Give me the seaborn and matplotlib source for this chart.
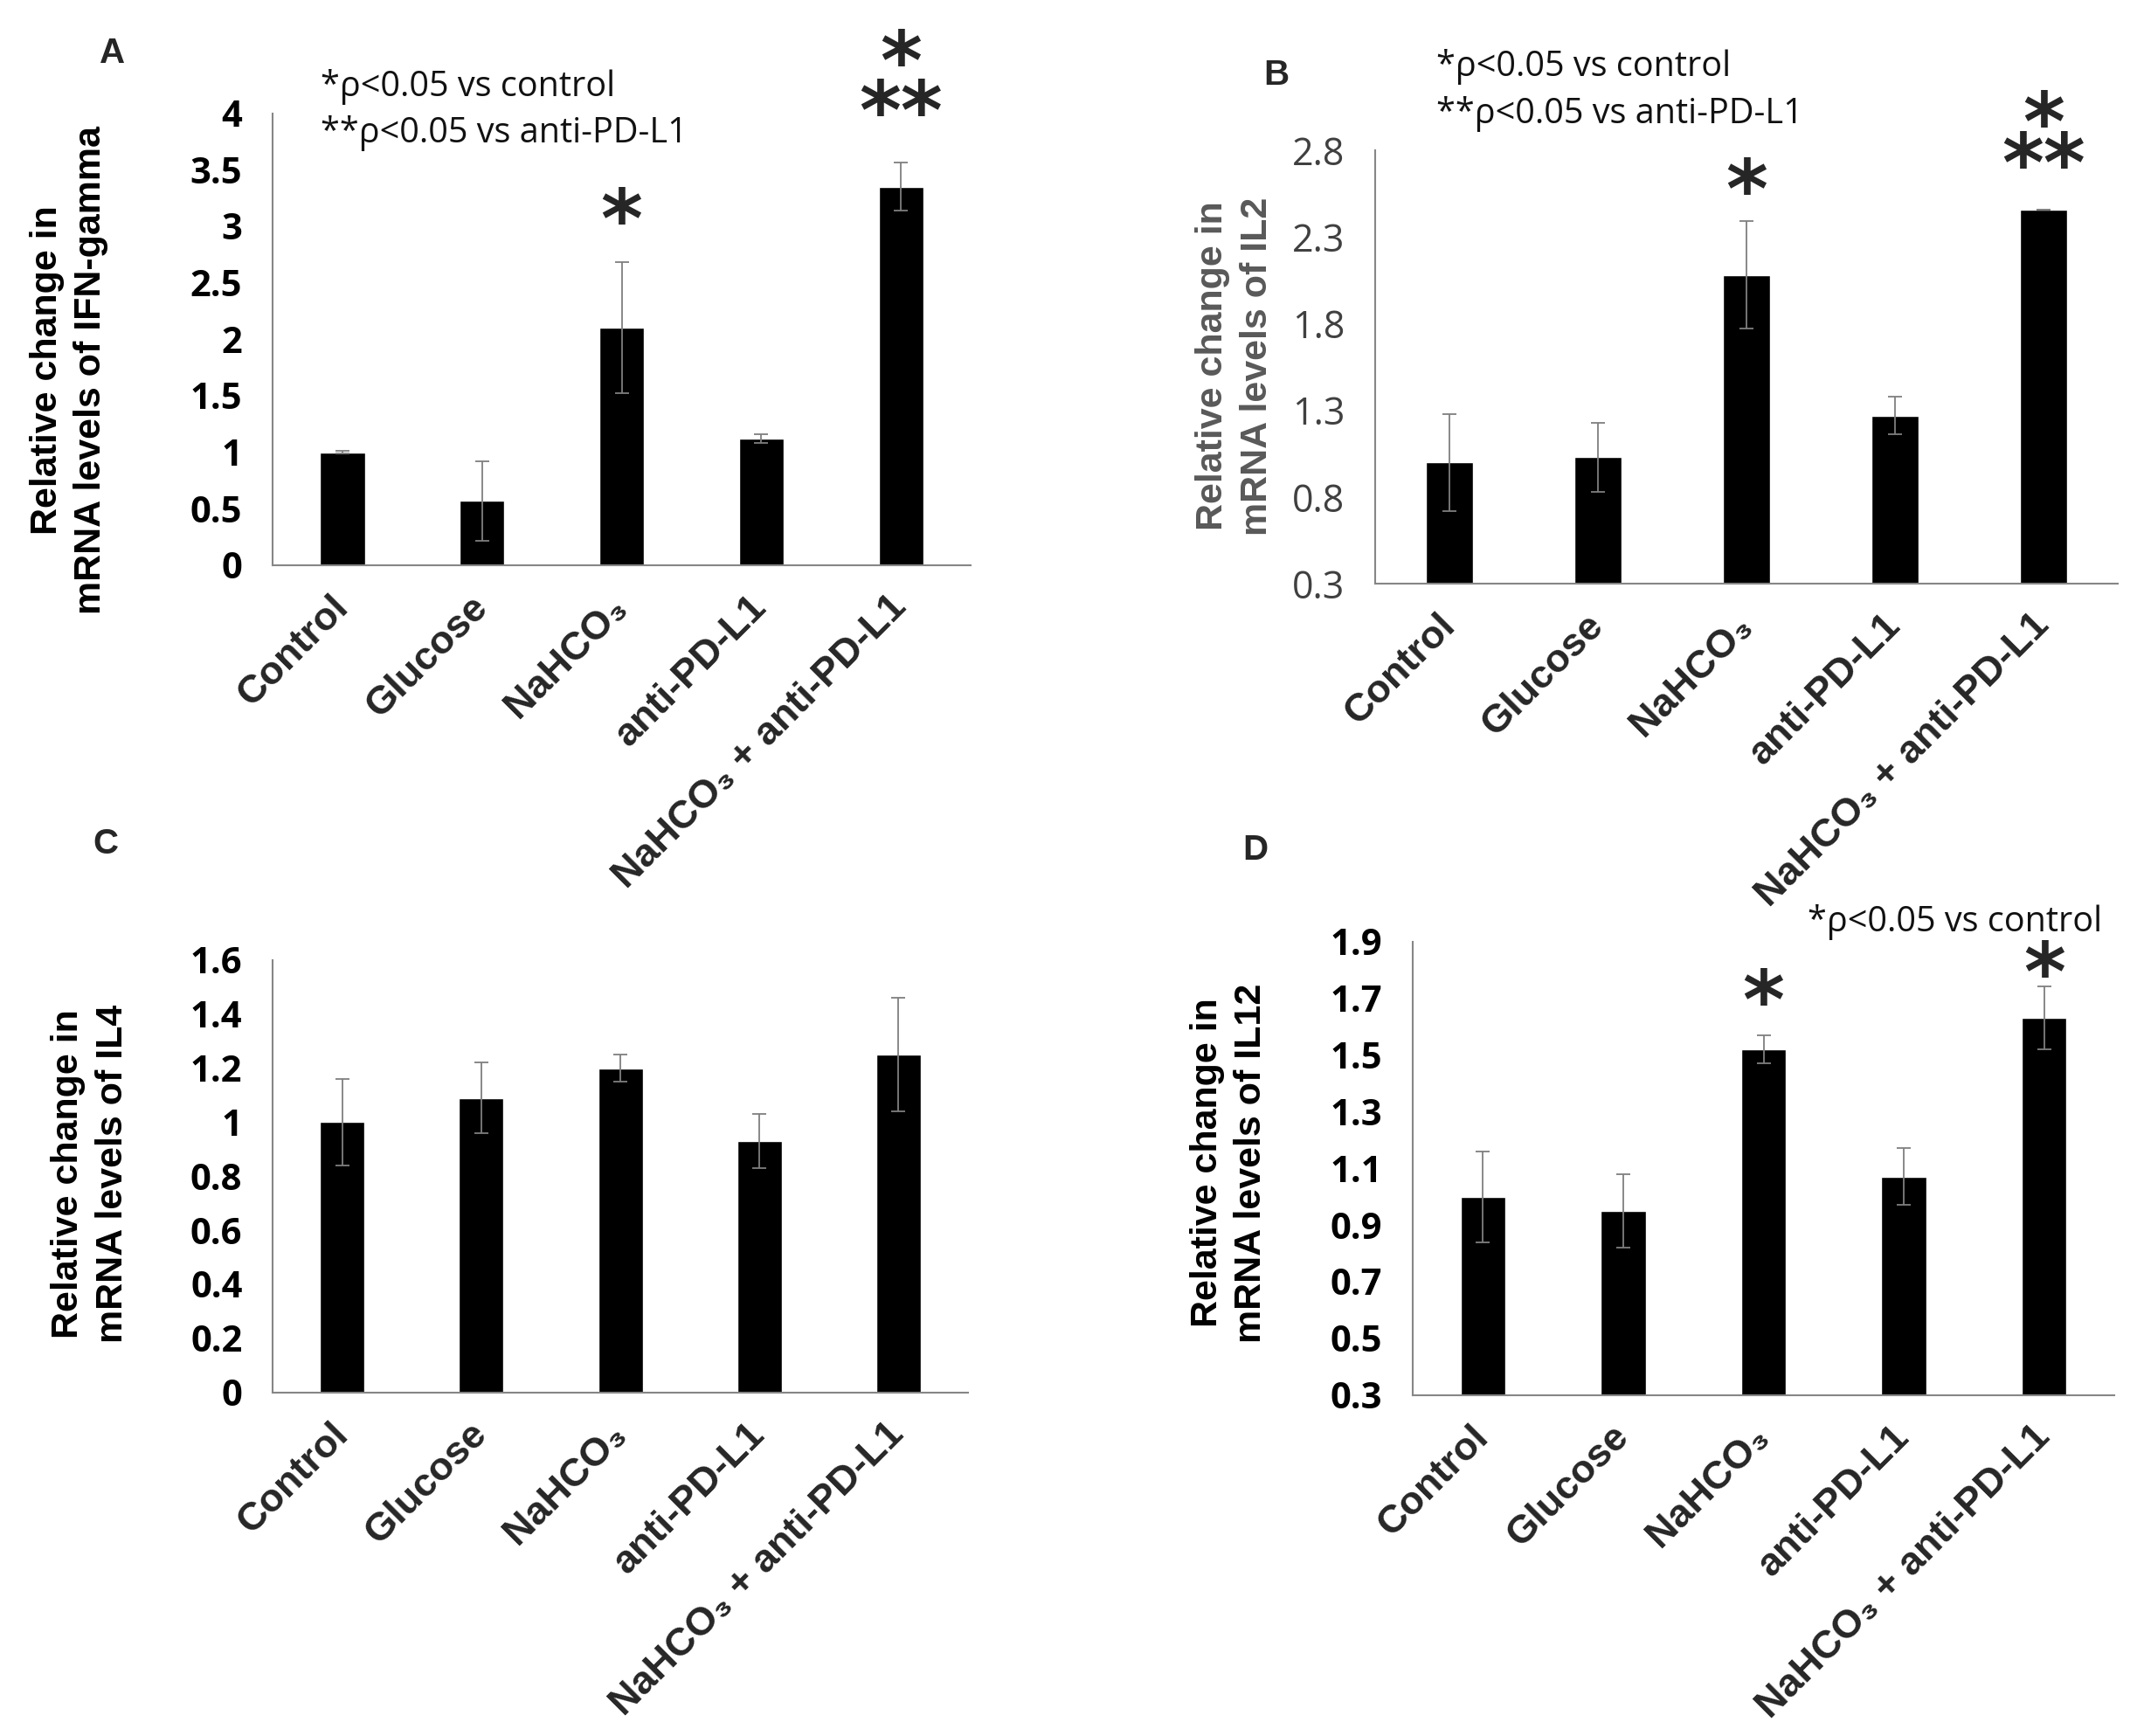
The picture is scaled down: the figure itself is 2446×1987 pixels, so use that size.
import numpy as np
import matplotlib
matplotlib.use('Agg')
import matplotlib.pyplot as plt
import seaborn as sns

# groups on the x axis
groups = ['Control', 'Glucose', 'NaHCO\u2083', 'anti-PD-L1', 'NaHCO\u2083 + anti-PD-L1']

# values (mean, error)
ifn_mean = [1.00, 0.57, 2.10, 1.12, 3.35]
ifn_err = [0.01, 0.35, 0.58, 0.04, 0.21]

il2_mean = [1.00, 1.03, 2.08, 1.27, 2.46]
il2_err = [0.28, 0.20, 0.31, 0.11, 0.0]

il4_mean = [1.00, 1.09, 1.20, 0.93, 1.25]
il4_err = [0.16, 0.13, 0.05, 0.10, 0.21]

il12_mean = [1.00, 0.95, 1.52, 1.07, 1.63]
il12_err = [0.16, 0.13, 0.05, 0.10, 0.11]

# y axis ranges / tick steps
ifn_ticks = np.arange(0, 4.01, 0.5)
il2_ticks = np.arange(0.3, 2.81, 0.5)
il4_ticks = np.arange(0, 1.61, 0.2)
il12_ticks = np.arange(0.3, 1.91, 0.2)

# significance marks: (group index, y, text)
ifn_marks = [(2, 3.13, '*'), (4, 4.53, '*'), (4, 4.09, '**')]
il2_marks = [(2, 2.62, '*'), (4, 3.01, '*'), (4, 2.77, '**')]
il12_marks = [(2, 1.72, '*'), (4, 1.82, '*')]

sns.set_style('white')
plt.rcParams['font.family'] = ['Liberation Sans', 'DejaVu Sans']

AX_COL = '#868686'
ERR_COL = '#7f7f7f'
TICK_FONT = ['Open Sans', 'DejaVu Sans']
LBL_FONT = ['Liberation Sans', 'DejaVu Sans']

fig = plt.figure(figsize=(24.46, 19.87), dpi=100)


def panel(rect, means, errs, ticks, ylabel, label_xy, marks, bold_ticks=True):
    ax = fig.add_axes(rect)
    sns.barplot(x=groups, y=means, color='black', width=0.32, saturation=1,
                ax=ax, errorbar=None)
    ax.errorbar(np.arange(len(groups)), means, yerr=errs, fmt='none',
                ecolor=ERR_COL, elinewidth=1.3, capsize=6, capthick=1.3)
    ax.set_xlim(-0.5, len(groups) - 0.5)
    ax.set_ylim(ticks[0], ticks[-1])
    ax.set_yticks(ticks)
    if bold_ticks:
        ax.set_yticklabels([f'{t:g}' for t in ticks], family=TICK_FONT,
                           fontsize=30, fontweight='bold', color='black')
    else:
        ax.set_yticklabels([f'{t:g}' for t in ticks], family=TICK_FONT,
                           fontsize=31, color='#404040')
    ax.set_xticks(np.arange(len(groups)))
    ax.set_xticklabels(groups, rotation=45, ha='right', va='center',
                       rotation_mode='anchor', family=LBL_FONT,
                       fontsize=32.5, fontweight='bold')
    ax.tick_params(axis='x', length=0, pad=30)
    ax.tick_params(axis='y', length=15, width=1.5, color=AX_COL, direction='out', pad=10)
    for s in ['top', 'right']:
        ax.spines[s].set_visible(False)
    for s in ['left', 'bottom']:
        ax.spines[s].set_color(AX_COL)
        ax.spines[s].set_linewidth(1.5)
    ylab_col = 'black' if bold_ticks else '#595959'
    ax.set_ylabel(ylabel, family=LBL_FONT, fontsize=31, fontweight='bold',
                  color=ylab_col, linespacing=1.35)
    ax.yaxis.set_label_coords(*label_xy)
    for i, y, txt in marks:
        ax.annotate(txt, (i, y), xytext=(0, -11), textcoords='offset points',
                    ha='center', va='center', fontsize=66, fontweight='bold',
                    family=['DejaVu Sans'], annotation_clip=False)
    ax.set_xlabel('')
    return ax


panel([0.1276, 0.6744, 0.3266, 0.2604], ifn_mean, ifn_err, ifn_ticks,
      'Relative change in\nmRNA levels of IFN-gamma', (-0.235, 0.431), ifn_marks)
panel([0.6435, 0.6638, 0.3475, 0.2496], il2_mean, il2_err, il2_ticks,
      'Relative change in\nmRNA levels of IL2', (-0.135, 0.502), il2_marks,
      bold_ticks=False)
panel([0.1276, 0.1980, 0.3254, 0.2490], il4_mean, il4_err, il4_ticks,
      'Relative change in\nmRNA levels of IL4', (-0.205, 0.505), [])
panel([0.6611, 0.1964, 0.3283, 0.2613], il12_mean, il12_err, il12_ticks,
      'Relative change in\nmRNA levels of IL12', (-0.205, 0.512), il12_marks)

# panel letters
for x, y, s in [(0.0527, 0.9695, 'A'), (0.5973, 0.9567, 'B'),
                (0.0495, 0.5136, 'C'), (0.5875, 0.5103, 'D')]:
    fig.text(x, y, s, ha='center', va='center', fontsize=29,
             fontweight='bold', family=LBL_FONT)

# legends for the significance marks
note_kw = dict(ha='left', va='center', fontsize=28.5, family=TICK_FONT, color='#111111')
fig.text(0.150, 0.950, '*\u03c1<0.05 vs control', **note_kw)
fig.text(0.150, 0.923, '**\u03c1<0.05 vs anti-PD-L1', **note_kw)
fig.text(0.672, 0.9615, '*\u03c1<0.05 vs control', **note_kw)
fig.text(0.672, 0.9342, '**\u03c1<0.05 vs anti-PD-L1', **note_kw)
fig.text(0.8459, 0.4687, '*\u03c1<0.05 vs control', **note_kw)

fig.savefig('out.png', dpi=100, facecolor='white')
